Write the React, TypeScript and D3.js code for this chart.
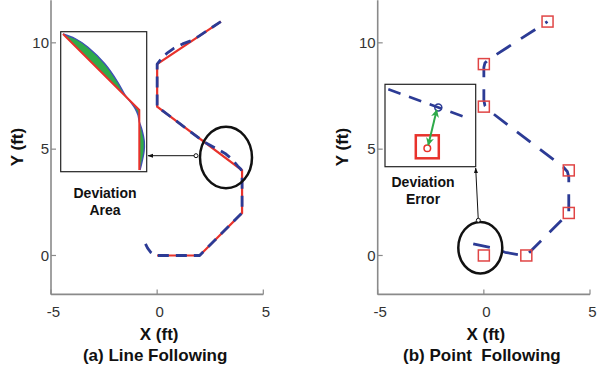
import React from "react";
import * as d3 from "d3";

// waypoints of the reference path (ft)
const waypointsX = [0, 2, 4, 4, 0, 0, 3];
const waypointsY = [0, 0, 2, 4, 7, 9, 11];

// robot trajectory, line following (ft)
const lineRobotX = [-0.55, -0.45, -0.3, -0.15, 0, 1, 2, 4, 4, 3.95, 3.8, 3.5, 3.2, 2.8, 2.2, 0, 0, 0.2, 0.45, 0.8, 1.2, 1.6, 1.9, 3];
const lineRobotY = [0.55, 0.35, 0.15, 0.04, 0, 0, 0, 2, 3.85, 4.05, 4.2, 4.55, 4.8, 5.02, 5.35, 7, 9, 9.25, 9.5, 9.75, 9.95, 10.1, 10.27, 11];

// robot trajectory, point following (ft)
const pointRobotX = [-0.5, 0.35, 1.0, 1.75, 2.05, 4, 4, 3.93, 3.75, 0.2, 0.05, 0, 0, 0.05, 0.2, 3];
const pointRobotY = [0.55, 0.37, 0.15, 0.02, 0.05, 2, 3.7, 3.95, 4.15, 6.85, 7.05, 7.3, 8.85, 9.05, 9.2, 11];

const xTicks = [-5, 0, 5];
const yTicks = [0, 5, 10];

// inset (a): close-up of the corner, local units
const areaRefX = [2.3, 78.6, 78.6];
const areaRefY = [137.7, 61.7, 1.7];
const areaRobotX = [2.3, 14.3, 27.3, 44.3, 57.3, 64.3, 70.3, 74.3, 77.3, 78.6, 81.3, 83.6, 83.3, 81.3, 79.3];
const areaRobotY = [137.7, 133.2, 124.5, 107.7, 89.2, 76.7, 69.2, 63.4, 56.7, 50, 41.7, 30, 19.7, 9.7, 1.7];

// inset (b): close-up of the start, local units
const errLineX = [3.3, 83.3];
const errLineY = [77.4, 48.4];
const robotPos = [53.3, 59.3];
const targetPos = [42.3, 18.4];
const errArrowX = [51.7, 43.3];
const errArrowY = [56.7, 21.7];

const FONT = "'Liberation Sans', Arial, sans-serif";
const RED = "#e8322b";
const BLUE = "#2c3b95";
const GREEN = "#2eaa4a";
const AXIS = "#8a8a8a";

function Axes({x, y, label, title}: any) {
  const x0 = x.range()[0];
  const x1 = x.range()[1];
  const yb = y.range()[0];
  const cx = (x0 + x1) / 2;
  return (
    <g fontFamily={FONT}>
      <line x1={x0} x2={x0} y1={y.range()[1]} y2={yb} stroke={AXIS} strokeWidth={1.6} />
      <line x1={x0} x2={x1} y1={yb} y2={yb} stroke={AXIS} strokeWidth={1.6} />
      {yTicks.map((t) => (
        <g key={"y" + t}>
          <line x1={x0} x2={x0 + 5} y1={y(t)} y2={y(t)} stroke={AXIS} strokeWidth={1.2} />
          <text x={x0 - 2} y={y(t)} dy="0.35em" textAnchor="end" fontSize={15} fill="#333">{t}</text>
        </g>
      ))}
      {xTicks.map((t) => (
        <g key={"x" + t}>
          <line x1={x(t)} x2={x(t)} y1={yb} y2={yb - 5} stroke={AXIS} strokeWidth={1.2} />
          <text x={x(t) + 2.5} y={yb + 23} textAnchor="middle" fontSize={15} fill="#333">{t}</text>
        </g>
      ))}
      <text transform={`translate(${label},147) rotate(-90)`} textAnchor="middle" fontSize={17} fontWeight="bold" fill="#111">Y (ft)</text>
      <text x={cx + 2} y={339.5} textAnchor="middle" fontSize={17} fontWeight="bold" fill="#111">X (ft)</text>
      <text x={cx - 2} y={361} textAnchor="middle" fontSize={17} fontWeight="bold" fill="#111" style={{whiteSpace: "pre"}}>{title}</text>
    </g>
  );
}

export default function App() {
  const yScale = d3.scaleLinear().domain([-1.83, 12]).range([294.4, 0.3]);
  const xA = d3.scaleLinear().domain([-5, 5]).range([51, 263.3]);
  const xB = d3.scaleLinear().domain([-5, 5]).range([377.7, 590]);

  const pathA = d3.line<number>().x((i) => xA(waypointsX[i])).y((i) => yScale(waypointsY[i]));
  const robotA = d3.line<number>().x((i) => xA(lineRobotX[i])).y((i) => yScale(lineRobotY[i]));
  const robotB = d3.line<number>().x((i) => xB(pointRobotX[i])).y((i) => yScale(pointRobotY[i]));

  // inset scales
  const iax = d3.scaleLinear().domain([0, 86]).range([60.7, 146.7]);
  const iay = d3.scaleLinear().domain([0, 140]).range([171.7, 31.7]);
  const ibx = d3.scaleLinear().domain([0, 90.7]).range([385, 475.7]);
  const iby = d3.scaleLinear().domain([0, 82.4]).range([166.7, 84.3]);

  const refInset = d3.line<number>().x((i) => iax(areaRefX[i])).y((i) => iay(areaRefY[i]));
  const robInset = d3.line<number>().x((i) => iax(areaRobotX[i])).y((i) => iay(areaRobotY[i])).curve(d3.curveCatmullRom.alpha(0.5));
  const refIdx = d3.range(areaRefX.length);
  const robIdx = d3.range(areaRobotX.length);
  const areaPath = robInset(robIdx) + "L" + refIdx.slice().reverse().map((i) => `${iax(areaRefX[i])},${iay(areaRefY[i])}`).join("L") + "Z";

  const sq = 11;
  const tsq = 23;

  return (
    <svg width={598} height={372} style={{position: "absolute", left: 0, top: 0, background: "#fff"}}>
      <defs>
        <marker id="blk" viewBox="0 0 10 10" refX="9" refY="5" markerWidth="6" markerHeight="6" orient="auto-start-reverse">
          <path d="M0,1.5L10,5L0,8.5Z" fill="#111" />
        </marker>
        <marker id="grn" viewBox="0 0 10 10" refX="9" refY="5" markerWidth="4" markerHeight="4" orient="auto-start-reverse">
          <path d="M0,0L10,5L0,10L3,5Z" fill={GREEN} />
        </marker>
      </defs>

      {/* (a) line following */}
      <Axes x={xA} y={yScale} label={23} title="(a) Line Following" />
      <path d={pathA(d3.range(waypointsX.length)) || ""} fill="none" stroke={RED} strokeWidth={2.2} />
      <path d={robotA(d3.range(lineRobotX.length)) || ""} fill="none" stroke={BLUE} strokeWidth={2.8} strokeDasharray="11,7" strokeLinejoin="round" />
      <ellipse cx={226} cy={157.5} rx={26} ry={30.8} fill="none" stroke="#111" strokeWidth={2.5} />
      <line x1={196} y1={155.7} x2={148} y2={155.7} stroke="#111" strokeWidth={1} markerEnd="url(#blk)" />
      <circle cx={196} cy={155.7} r={2} fill="#fff" stroke="#111" strokeWidth={1} />
      <rect x={60.7} y={31.7} width={86} height={140} fill="#fff" stroke="#222" strokeWidth={1.2} />
      <path d={areaPath} fill={GREEN} stroke="none" />
      <path d={robInset(robIdx) || ""} fill="none" stroke="#3f50b5" strokeWidth={1.4} />
      <path d={refInset(refIdx) || ""} fill="none" stroke={RED} strokeWidth={2} />
      <g fontFamily={FONT} fontSize={14} fontWeight="bold" textAnchor="middle" fill="#111">
        <text x={105} y={197.5}>Deviation</text>
        <text x={105} y={215}>Area</text>
      </g>

      {/* (b) point following */}
      <Axes x={xB} y={yScale} label={348} title="(b) Point  Following" />
      <path d={robotB(d3.range(pointRobotX.length)) || ""} fill="none" stroke={BLUE} strokeWidth={2.8} strokeDasharray="17,12" strokeLinejoin="round" />
      {waypointsX.map((wx, i) => (
        <rect key={i} x={xB(wx) - sq / 2} y={yScale(waypointsY[i]) - sq / 2} width={sq} height={sq} fill="none" stroke="#e04545" strokeWidth={1.5} />
      ))}
      <ellipse cx={480.3} cy={247.7} rx={22} ry={25.7} fill="none" stroke="#111" strokeWidth={2.5} />
      <line x1={478.3} y1={220.3} x2={475.7} y2={168} stroke="#111" strokeWidth={1} markerEnd="url(#blk)" />
      <circle cx={478.3} cy={220.3} r={2} fill="#fff" stroke="#111" strokeWidth={1} />
      <rect x={385} y={84.3} width={90.7} height={82.4} fill="#fff" stroke="#222" strokeWidth={1.2} />
      <line x1={ibx(errLineX[0])} y1={iby(errLineY[0])} x2={ibx(errLineX[1])} y2={iby(errLineY[1])} stroke={BLUE} strokeWidth={2.5} strokeDasharray="13,9" />
      <circle cx={ibx(robotPos[0])} cy={iby(robotPos[1])} r={3.5} fill="none" stroke={BLUE} strokeWidth={1.5} />
      <rect x={ibx(targetPos[0]) - tsq / 2} y={iby(targetPos[1]) - tsq / 2 - 1.5} width={tsq} height={tsq} fill="none" stroke={RED} strokeWidth={2.5} />
      <circle cx={ibx(targetPos[0])} cy={iby(targetPos[1])} r={3.3} fill="none" stroke={RED} strokeWidth={1.5} />
      <line x1={ibx(errArrowX[0])} y1={iby(errArrowY[0])} x2={ibx(errArrowX[1])} y2={iby(errArrowY[1])} stroke={GREEN} strokeWidth={2} markerStart="url(#grn)" markerEnd="url(#grn)" />
      <g fontFamily={FONT} fontSize={14} fontWeight="bold" textAnchor="middle" fill="#111">
        <text x={423} y={187}>Deviation</text>
        <text x={423} y={204}>Error</text>
      </g>
    </svg>
  );
}
